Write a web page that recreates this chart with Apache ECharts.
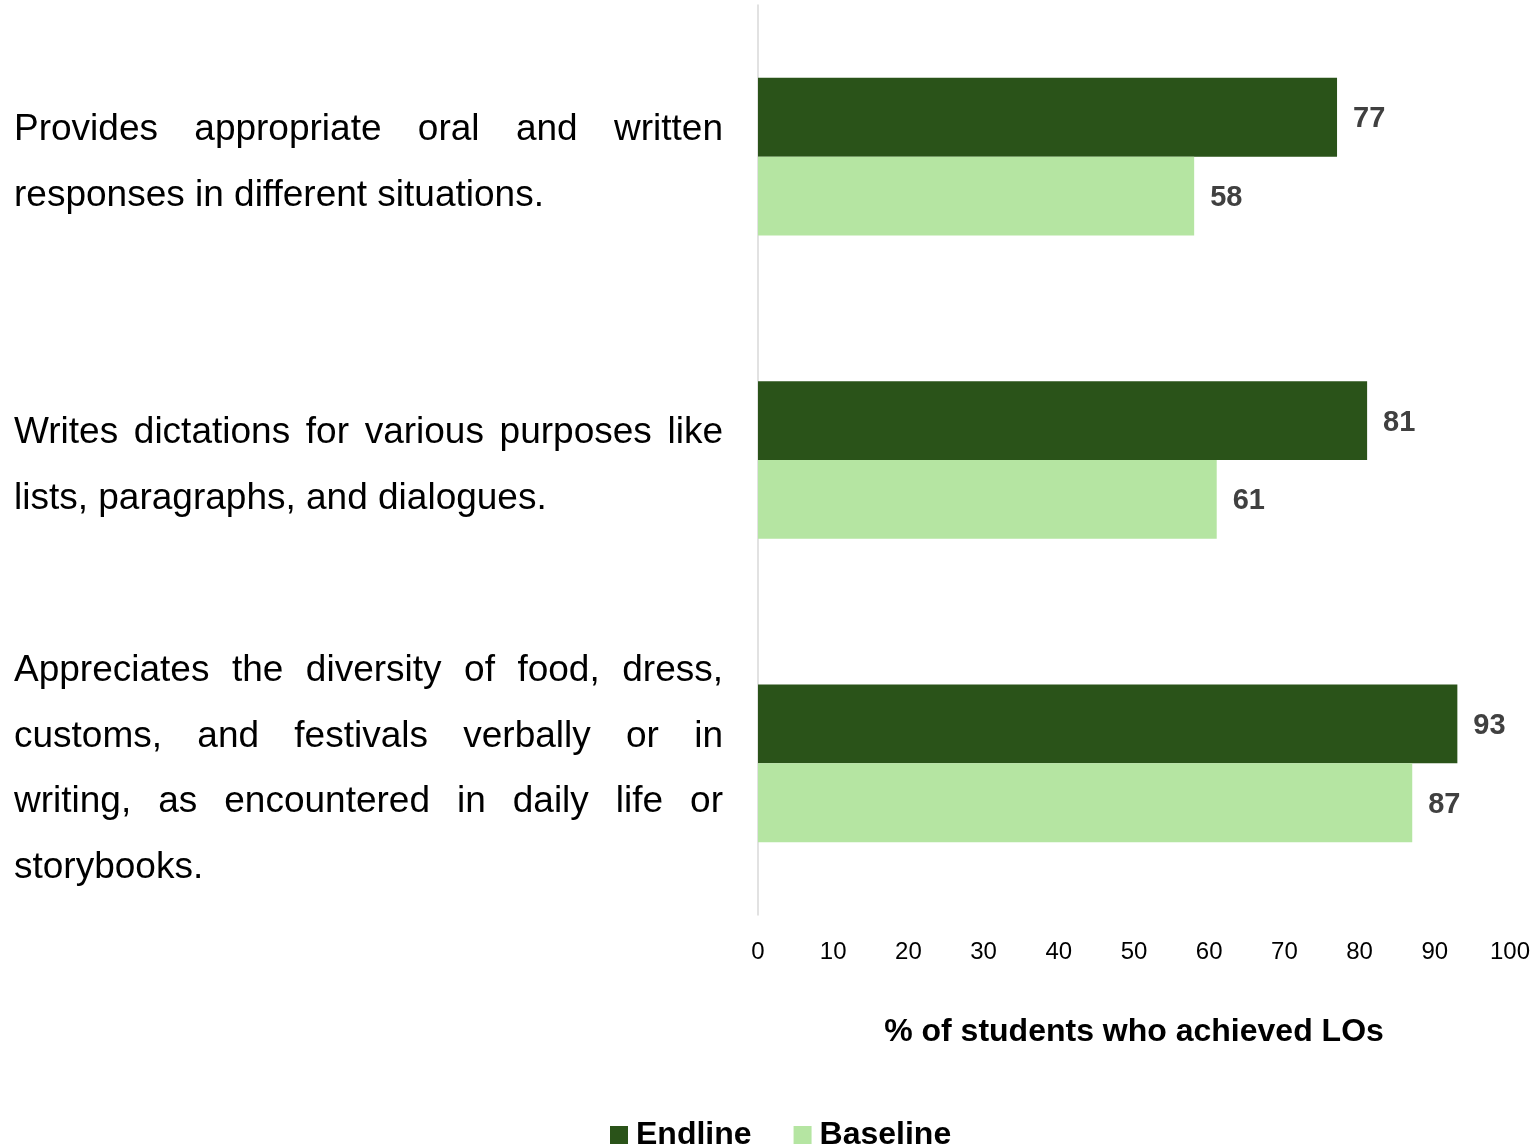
<!DOCTYPE html>
<html><head><meta charset="utf-8">
<script src="https://cdn.jsdelivr.net/npm/echarts@6/dist/echarts.min.js"></script>
<style>html,body{margin:0;padding:0;background:#fff}#c{width:1534px;height:1146px}</style>
</head><body><div id="c"></div>
<script>
const categoryLines = [
  ["Provides appropriate oral and written", "responses in different situations."],
  ["Writes dictations for various purposes like", "lists, paragraphs, and dialogues."],
  ["Appreciates the diversity of food, dress,", "customs, and festivals verbally or in", "writing, as encountered in daily life or", "storybooks."]
];
const categories = categoryLines.map(l => l.join(' '));
const endline = [77, 81, 93];
const baseline = [58, 61, 87];
const xTicks = [0, 10, 20, 30, 40, 50, 60, 70, 80, 90, 100];
const seriesNames = ["Endline", "Baseline"];
const axisTitle = "% of students who achieved LOs";

const FONT_FAMILY = '"Liberation Sans", Arial, Helvetica, sans-serif';
const LABEL_SIZE = 37;
const BLOCK_W = 709;
const LINE_H = 65.5;

const cv = document.createElement('canvas').getContext('2d');
cv.font = LABEL_SIZE + 'px ' + FONT_FAMILY;
const rich = {};
let styleId = 0;
const formatted = {};
categoryLines.forEach((lines, ci) => {
  const out = [];
  lines.forEach((line, li) => {
    const words = line.split(' ');
    const widths = words.map(w => cv.measureText(w).width);
    const isLast = li === lines.length - 1;
    let gap;
    if (isLast || words.length < 2) {
      gap = cv.measureText(' ').width;
    } else {
      gap = (BLOCK_W - widths.reduce((a, b) => a + b, 0)) / (words.length - 1);
    }
    let used = 0;
    const parts = words.map((w, i) => {
      const name = 's' + (styleId++);
      let wd;
      if (i === words.length - 1) wd = BLOCK_W - used;
      else wd = widths[i] + gap;
      used += wd;
      rich[name] = { width: wd, align: 'left', fontSize: LABEL_SIZE, fontFamily: FONT_FAMILY, color: '#000', lineHeight: LINE_H };
      return '{' + name + '|' + w + '}';
    });
    out.push(parts.join(''));
  });
  formatted[categories[ci]] = out.join('\n');
});

const chart = echarts.init(document.getElementById('c'), null, { renderer: 'canvas' });
const labelStyle = { show: true, position: 'right', distance: 16, offset: [0, 2], fontSize: 29, fontWeight: 'bold', color: '#404040', fontFamily: FONT_FAMILY };
chart.setOption({
  animation: false,
  backgroundColor: '#fff',
  textStyle: { fontFamily: FONT_FAMILY },
  grid: { left: 758, right: 24, top: 5, bottom: 231, containLabel: false },
  legend: {
    data: seriesNames, left: 605, top: 1114, icon: 'rect', itemWidth: 18, itemHeight: 18, itemGap: 42,
    textStyle: { fontSize: 32, fontWeight: 'bold', color: '#000', fontFamily: FONT_FAMILY, padding: [0, 0, 0, 3] }
  },
  xAxis: {
    type: 'value', min: 0, max: 100, interval: 10,
    axisLine: { show: false }, axisTick: { show: false }, splitLine: { show: false },
    axisLabel: { fontSize: 24, color: '#000', margin: 25, fontFamily: FONT_FAMILY,
      formatter: v => (xTicks.indexOf(v) >= 0 ? String(v) : '') },
    name: axisTitle, nameLocation: 'middle', nameGap: 101,
    nameTextStyle: { fontSize: 32, fontWeight: 'bold', color: '#000', fontFamily: FONT_FAMILY }
  },
  yAxis: {
    type: 'category', data: categories, inverse: true,
    axisLine: { show: true, lineStyle: { color: '#d9d9d9', width: 1.5 } },
    axisTick: { show: false },
    axisLabel: { margin: 35, formatter: v => formatted[v], rich: rich, align: 'right', padding: [12, 0, 0, 0] }
  },
  series: [
    { name: seriesNames[0], type: 'bar', data: endline, barGap: '0%', barCategoryGap: '48%',
      itemStyle: { color: '#2a5319' }, label: labelStyle },
    { name: seriesNames[1], type: 'bar', data: baseline, barGap: '0%', barCategoryGap: '48%',
      itemStyle: { color: '#b5e5a2' }, label: labelStyle }
  ]
});
</script></body></html>
